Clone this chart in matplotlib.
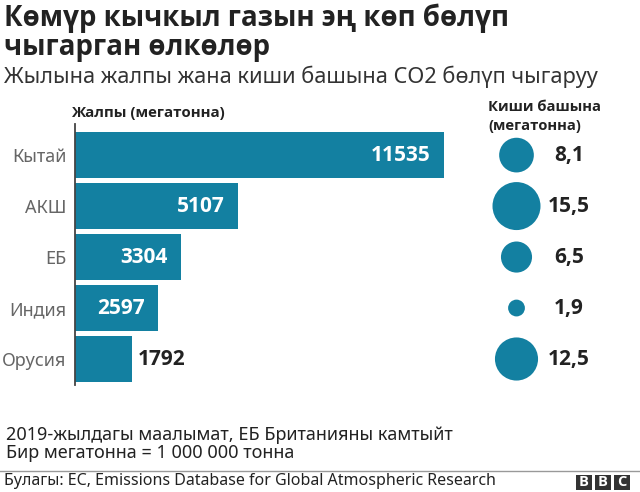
import matplotlib
matplotlib.use("Agg")
import matplotlib.pyplot as plt
from matplotlib.patches import Rectangle

REG = ['Noto Sans', 'DejaVu Sans']
BOLD = ['Open Sans', 'Roboto', 'DejaVu Sans']
plt.rcParams['font.family'] = REG

countries = ["Кытай", "АКШ", "ЕБ", "Индия", "Орусия"]
totals = [11535, 5107, 3304, 2597, 1792]
per_capita = [8.1, 15.5, 6.5, 1.9, 12.5]
per_capita_labels = ["8,1", "15,5", "6,5", "1,9", "12,5"]
title_lines = ["Көмүр кычкыл газын эң көп бөлүп", "чыгарган өлкөлөр"]
subtitle = "Жылына жалпы жана киши башына CO2 бөлүп чыгаруу"
note_lines = ["2019-жылдагы маалымат, ЕБ Британияны камтыйт", "Бир мегатонна = 1 000 000 тонна"]
source = "Булагы: EC, Emissions Database for Global Atmospheric Research"
BLUE = "#1380A1"
W, H = 640, 492

fig = plt.figure(figsize=(W/100, H/100), dpi=100, facecolor="white")
bg = fig.add_axes([0, 0, 1, 1])
bg.set_xlim(0, W); bg.set_ylim(H, 0); bg.axis("off")

for i, line in enumerate(title_lines):
    bg.text(4, 18 + i*29, line, fontsize=19.9, fontweight="bold", family=BOLD, color="#222222", va="center", ha="left")
bg.text(4, 77, subtitle, fontsize=15.7, color="#333333", va="center", ha="left")
bg.text(71, 113, "Жалпы (мегатонна)", fontsize=10.8, fontweight="bold", family=BOLD, color="#222222", va="center")
bg.text(488, 107, "Киши башына", fontsize=10.6, fontweight="bold", family=BOLD, color="#222222", va="center")
bg.text(488, 126, "(мегатонна)", fontsize=10.6, fontweight="bold", family=BOLD, color="#222222", va="center")

ax = fig.add_axes([75/W, 1-385/H, (444-75)/W, (385-124)/H])
y = list(range(len(countries)))
ax.barh(y, totals, height=0.9, color=BLUE, zorder=2)
ax.set_xlim(0, 11535)
ax.set_ylim(4.51, -0.61)
ax.set_yticks(y, countries)
ax.set_xticks([])
ax.tick_params(axis="y", length=0, labelsize=13, labelcolor="#666666", pad=6)
for s in ["top", "right", "bottom"]:
    ax.spines[s].set_visible(False)
ax.spines["left"].set_color("#444444")
ax.spines["left"].set_linewidth(1.3)
ax.patch.set_alpha(0)
for i, v in enumerate(totals):
    if v > 2000:
        ax.text(v-420, i, str(v), color="white", fontsize=15, fontweight="bold", family=BOLD, ha="right", va="center", zorder=3)
    else:
        ax.text(v+170, i, str(v), color="#222222", fontsize=15, fontweight="bold", family=BOLD, ha="left", va="center", zorder=3)

ax2 = fig.add_axes([480/W, 1-385/H, 120/W, (385-124)/H])
ax2.set_xlim(0, 120); ax2.set_ylim(4.51, -0.61); ax2.axis("off")
ax2.patch.set_alpha(0)
xs = [36.5]*5
ax2.scatter(xs, y, s=[(v/15.5)*(48*0.72)**2 for v in per_capita], color=BLUE, linewidths=0, zorder=2)
for i, t in enumerate(per_capita_labels):
    ax2.text(89, i, t, color="#222222", fontsize=15, fontweight="bold", family=BOLD, ha="center", va="center")

bg.text(6, 435, note_lines[0], fontsize=13, color="#222222", va="center")
bg.text(6, 453, note_lines[1], fontsize=13, color="#222222", va="center")
bg.plot([0, W], [471, 471], color="#999999", lw=1)
bg.text(4, 481, source, fontsize=11.5, color="#222222", va="center")
for i, ch in enumerate("BBC"):
    x0 = 576 + i*19
    bg.add_patch(Rectangle((x0, 475), 16, 15, color="#333333", lw=0))
    bg.text(x0+8, 482.5, ch, color="white", fontsize=10.5, fontweight="bold", family=BOLD, ha="center", va="center")

fig.savefig("out.png", dpi=100)
